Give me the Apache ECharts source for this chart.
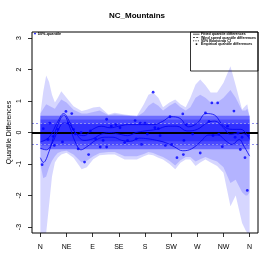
<!DOCTYPE html>
<html>
<head>
<meta charset="utf-8">
<script src="https://cdn.jsdelivr.net/npm/echarts@6/dist/echarts.min.js"></script>
<style>html,body{margin:0;padding:0;background:#fff}#c{width:274px;height:274px}</style>
</head>
<body>
<div id="c"></div>
<script>
// ---------------- data ----------------
const titleText = 'NC_Mountains';
const dirLabels = ['N', 'NE', 'E', 'SE', 'S', 'SW', 'W', 'NW', 'N'];
const yTicks = [-3, -2, -1, 0, 1, 2, 3];

// outer (light) bootstrap band
const bandDeg = [0, 5, 10, 15, 20, 25, 30, 36, 45, 57, 71, 80, 91, 102, 117, 128, 145, 166, 178, 186, 194, 203, 211, 222, 232, 241, 250, 258, 267, 275, 284, 293, 304, 315, 327, 336, 347, 353, 356, 360];
const lightHi = [0.6, 1.3, 1.81, 1.6, 1.2, 0.95, 1.1, 1.31, 1.1, 0.83, 0.68, 0.72, 0.79, 0.82, 0.57, 0.63, 0.57, 0.52, 0.9, 1.2, 1.27, 1.1, 0.8, 0.95, 1.05, 0.9, 0.8, 1.1, 1.52, 1.68, 1.5, 1.27, 1.27, 1.58, 2.1, 1.5, 0.73, 0.85, 0.9, 0.5];
const lightLo = [-3.19, -3.19, -3.19, -2.3, -1.4, -0.95, -0.8, -0.7, -0.64, -0.8, -1.17, -1.1, -0.85, -0.72, -0.7, -0.7, -0.86, -0.86, -0.75, -0.7, -0.72, -0.8, -0.86, -1.0, -1.17, -0.96, -0.86, -0.86, -1.06, -0.95, -0.86, -0.95, -1.06, -1.28, -2.34, -2.0, -2.87, -3.1, -3.19, -3.19];
// inner (medium) band
const medHi = [0.6, 0.75, 0.9, 0.85, 0.8, 0.75, 0.9, 1.05, 0.95, 0.72, 0.6, 0.6, 0.65, 0.7, 0.55, 0.58, 0.55, 0.5, 0.65, 0.85, 0.95, 0.85, 0.7, 0.85, 0.95, 0.8, 0.7, 0.8, 1.1, 1.2, 1.1, 0.95, 0.95, 1.1, 1.35, 1.1, 0.7, 0.7, 0.75, 0.5];
const medLo = [-1.0, -1.45, -1.4, -1.1, -0.9, -0.75, -0.65, -0.6, -0.58, -0.7, -0.95, -0.9, -0.75, -0.65, -0.62, -0.62, -0.75, -0.75, -0.68, -0.62, -0.65, -0.72, -0.78, -0.9, -1.05, -0.88, -0.78, -0.78, -0.92, -0.85, -0.78, -0.85, -0.92, -1.1, -1.6, -1.5, -1.9, -2.0, -2.0, -1.9];

// constant wind-speed quantile difference bands (half widths)
const rectDeg = [0, 360];
const rectLevels = [0.53, 0.41, 0.28];
const dashLevels = [0.28, -0.38];

// fitted quantile difference curves
const upDeg = [0, 15, 30, 40, 50, 60, 75, 90, 105, 120, 135, 150, 165, 180, 195, 210, 225, 240, 255, 270, 285, 300, 315, 330, 345, 360];
const upVal = [-0.3, -0.15, 0.35, 0.6, 0.35, 0.0, -0.1, 0.1, 0.2, 0.15, 0.2, 0.25, 0.25, 0.25, 0.25, 0.35, 0.5, 0.45, 0.18, 0.3, 0.6, 0.55, 0.2, 0.1, 0.1, -0.22];
const loDeg = [0, 5, 15, 25, 35, 40, 50, 60, 70, 80, 95, 110, 125, 140, 155, 170, 185, 200, 215, 230, 245, 260, 275, 290, 305, 320, 330, 342, 350, 360];
const loVal = [-0.8, -0.95, -0.6, 0.0, 0.45, 0.55, 0.2, -0.3, -0.55, -0.45, -0.25, -0.15, -0.15, -0.25, -0.28, -0.18, -0.2, -0.25, -0.32, -0.45, -0.58, -0.52, -0.3, -0.08, -0.08, -0.28, -0.38, -0.22, -0.43, -0.75];
const midDeg = [0, 10, 20, 30, 40, 50, 60, 75, 90, 105, 120, 135, 150, 165, 180, 200, 220, 235, 252, 270, 287, 300, 315, 327, 344, 360];
const midVal = [-0.5, -0.55, -0.35, 0.05, 0.3, 0.25, 0.0, -0.25, -0.2, -0.05, 0.0, -0.05, -0.1, 0.0, 0.05, 0.1, 0.2, 0.2, 0.05, 0.1, 0.31, 0.36, 0.15, -0.06, 0.0, -0.16];

// empirical quantile differences
const ptDeg = [3, 5, 13, 16, 22, 24, 30, 38, 44, 48, 54, 57, 60, 65, 70, 76, 83, 86, 95, 103, 108, 114, 114, 122, 130, 137, 145, 150, 163, 165, 172, 174, 180, 184, 194, 197, 203, 206, 215, 223, 226, 235, 245, 247, 246, 251, 262, 275, 284, 290, 295, 297, 305, 307, 313, 322, 333, 335, 340, 344, 347, 352, 356, 358];
const ptVal = [-1.02, 0.12, -0.22, 0.3, -0.12, -0.41, 0.1, -0.3, 0.67, 0.3, 0.6, 0.1, -0.05, -0.52, 0.0, -0.94, -0.7, 0.05, -0.2, -0.46, -0.25, 0.42, -0.46, 0.2, 0.25, 0.15, -0.32, -0.25, 0.38, -0.2, 0.3, -0.38, 0.3, -0.05, 1.28, 0.15, 0.12, -0.1, -0.41, 0.5, -0.38, -0.8, 0.59, -0.25, -0.7, 0.25, -0.05, -0.65, 0.62, 0.35, 0.94, -0.1, 0.94, -0.05, -0.45, 0.2, 0.68, -0.15, -0.02, -0.54, -0.15, -0.8, -1.84, -0.1];

const legendItems = ['Fitted quantile differences', 'Wind speed quantile differences', '95% Bootstrap CI', 'Empirical quantile differences'];
const quantLabel = '50%-quantile';

// ---------------- layout ----------------
const xMin = -14.4, xMax = 374.4, yMin = -3.19, yMax = 3.19;
const gA = {left: 32, top: 32, width: 226, height: 201};
const sx = v => gA.left + (v - xMin) / (xMax - xMin) * gA.width;
const sy = v => gA.top + (yMax - v) / (yMax - yMin) * gA.height;
const bx0 = sx(0), bx1 = sx(360), by0 = sy(yTicks[yTicks.length - 1]), by1 = sy(yTicks[0]);

function band(deg, lo, hi, color, z) {
  return {
    type: 'custom', xAxisIndex: 0, yAxisIndex: 0, z: z, silent: true,
    data: deg.map((d, i) => [d, lo[i], hi[i]]),
    encode: {x: 0, y: [1, 2]},
    renderItem: function (params, api) {
      if (params.dataIndex !== 0) return null;
      const pts = [];
      for (let i = 0; i < deg.length; i++) pts.push(api.coord([deg[i], hi[i]]));
      for (let i = deg.length - 1; i >= 0; i--) pts.push(api.coord([deg[i], lo[i]]));
      return {type: 'polygon', shape: {points: pts}, style: {fill: color}};
    }
  };
}

const series = [];
series.push(band(bandDeg, lightLo, lightHi, 'rgba(0,0,255,0.16)', 1));
series.push(band(bandDeg, medLo, medHi, 'rgba(0,0,255,0.16)', 2));
const rectAlpha = [0.4, 0.3, 0.33];
rectLevels.forEach((h, k) => {
  series.push(band(rectDeg, rectDeg.map(() => -h), rectDeg.map(() => h), 'rgba(0,0,255,' + rectAlpha[k] + ')', 3));
});
const curveStyle = {color: '#0000f0', width: 0.8};
[[upDeg, upVal], [loDeg, loVal], [midDeg, midVal]].forEach((c, k) => {
  series.push({
    type: 'line', xAxisIndex: 0, yAxisIndex: 0, z: 5, smooth: 0.4, symbol: 'none', silent: true,
    data: c[0].map((d, i) => [d, c[1][i]]), lineStyle: curveStyle,
    markLine: k === 0 ? {
      symbol: 'none', silent: true, label: {show: false}, animation: false,
      lineStyle: {type: [2, 2], color: '#8f8ff2', width: 1},
      data: dashLevels.map(v => ({yAxis: v}))
    } : undefined
  });
});
series.push({
  type: 'scatter', xAxisIndex: 0, yAxisIndex: 0, z: 7, symbol: 'circle', symbolSize: 2.8, silent: true,
  itemStyle: {color: '#0000ff'},
  data: ptDeg.map((d, i) => [d, ptVal[i]]),
  markLine: {
    symbol: 'none', silent: true, label: {show: false}, animation: false,
    lineStyle: {type: 'solid', color: '#000', width: 2},
    data: [{yAxis: 0}]
  }
});

// legend graphics
const graphic = [];
graphic.push({type: 'rect', shape: {x: 190.5, y: 32, width: 67.5, height: 39}, style: {fill: 'none', stroke: '#000', lineWidth: 0.8}, z: -1});
const lx = 193, tx = 201, ly0 = 34.2, ldy = 3.3;
const dashes = [null, [2, 1.2], [1.2, 1.2], 'pt'];
legendItems.forEach((t, i) => {
  const y = ly0 + i * ldy;
  if (dashes[i] === 'pt') {
    graphic.push({type: 'circle', shape: {cx: lx + 3.5, cy: y, r: 0.9}, style: {fill: '#000'}});
  } else {
    graphic.push({type: 'line', shape: {x1: lx, y1: y, x2: lx + 6.5, y2: y}, style: {stroke: '#000', lineWidth: 0.7, lineDash: dashes[i] || null}});
  }
  graphic.push({type: 'text', x: tx, y: y, style: {text: t, fontSize: 3.6, fontFamily: 'Liberation Sans', fill: '#000', verticalAlign: 'middle', align: 'left', fontWeight: 'bold'}});
});
graphic.push({type: 'circle', shape: {cx: 35, cy: 33.6, r: 0.9}, style: {fill: '#0000ff'}});
graphic.push({type: 'text', x: 37.8, y: 33.6, style: {text: quantLabel, fontSize: 3.8, fontFamily: 'Liberation Sans', fill: '#000', verticalAlign: 'middle', align: 'left', fontWeight: 'bold'}});

const hiddenAxis = (gi, extra) => Object.assign({type: 'value', gridIndex: gi, axisLine: {show: false}, axisTick: {show: false}, axisLabel: {show: false}, splitLine: {show: false}}, extra || {});
const tickStyle = {show: true, length: 4, lineStyle: {color: '#000', width: 0.8}};
const lblFont = {fontSize: 7, fontFamily: 'Liberation Sans', color: '#000'};

const chart = echarts.init(document.getElementById('c'), null, {renderer: 'canvas'});
chart.setOption({
  animation: false,
  backgroundColor: '#fff',
  title: {text: titleText, left: 'center', top: 7, textStyle: {fontSize: 8, fontWeight: 'bold', fontFamily: 'Liberation Sans', color: '#000'}},
  grid: [
    {left: gA.left, top: gA.top, width: gA.width, height: gA.height, show: true, borderColor: '#000', borderWidth: 1, backgroundColor: 'transparent', z: 10, outerBoundsMode: 'none'},
    {left: bx0, top: gA.top, width: bx1 - bx0, height: gA.height, show: false, outerBoundsMode: 'none'},
    {left: gA.left, top: by0, width: gA.width, height: by1 - by0, show: false, outerBoundsMode: 'none'}
  ],
  xAxis: [
    hiddenAxis(0, {min: xMin, max: xMax}),
    {type: 'value', gridIndex: 1, min: 0, max: 360, interval: 45, position: 'bottom',
      axisLine: {show: false}, splitLine: {show: false}, axisTick: tickStyle,
      axisLabel: Object.assign({show: true, margin: 11, formatter: v => dirLabels[Math.round(v / 45)]}, lblFont)},
    hiddenAxis(2, {min: 0, max: 1})
  ],
  yAxis: [
    hiddenAxis(0, {min: yMin, max: yMax}),
    hiddenAxis(1, {min: 0, max: 1}),
    {type: 'value', gridIndex: 2, min: yTicks[0], max: yTicks[yTicks.length - 1], interval: 1, position: 'left',
      axisLine: {show: false}, splitLine: {show: false}, axisTick: tickStyle,
      axisLabel: Object.assign({show: true, rotate: 90, margin: 9}, lblFont),
      name: 'Quantile Differences', nameLocation: 'middle', nameGap: 19, nameMoveOverlap: false,
      nameTextStyle: lblFont}
  ],
  graphic: graphic,
  series: series
});
</script>
</body>
</html>
